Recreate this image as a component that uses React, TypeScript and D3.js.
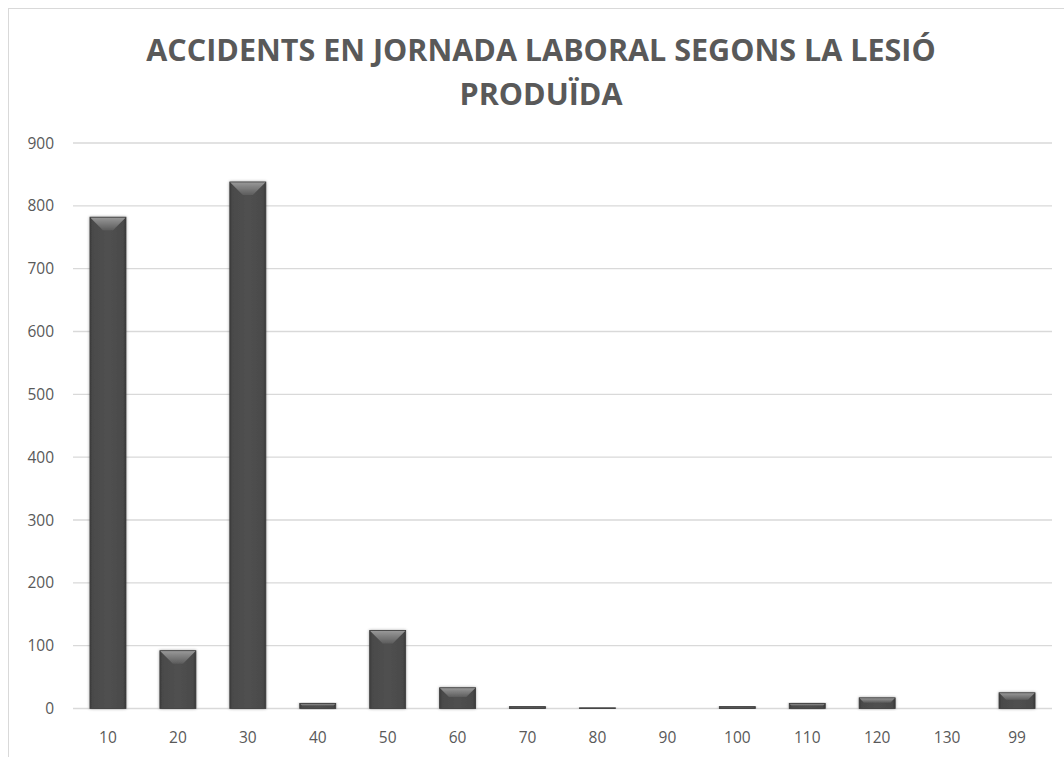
import React from "react";
import * as d3 from "d3";

const categories = ["10", "20", "30", "40", "50", "60", "70", "80", "90", "100", "110", "120", "130", "99"];
const values = [782, 92, 838, 8, 124, 33, 3, 1, 0, 3, 8, 17, 0, 25];
const yTicks = [0, 100, 200, 300, 400, 500, 600, 700, 800, 900];
const titleLines = ["ACCIDENTS EN JORNADA LABORAL SEGONS LA LESIÓ", "PRODUÏDA"];

const W = 1064;
const H = 757;
const plot = { left: 73, right: 1052, top: 143, bottom: 708.5 };
const textColor = "#595959";
const font = "'Open Sans', 'Liberation Sans', Arial, sans-serif";

export default function App() {
  const x = d3.scaleBand<string>().domain(categories).range([plot.left, plot.right]).paddingInner(0.485).paddingOuter(0.2425);
  const y = d3.scaleLinear().domain([0, 900]).range([plot.bottom, plot.top]);
  const bw = x.bandwidth();

  return (
    <svg width={W} height={H} style={{ position: "absolute", left: 0, top: 0, display: "block", background: "#fff" }}>
      <defs>
        <linearGradient id="topBevel" x1="0" y1="0" x2="0" y2="1">
          <stop offset="0" stopColor="#9a9a9a" />
          <stop offset="1" stopColor="#5c5c5c" />
        </linearGradient>
        <linearGradient id="body" x1="0" y1="0" x2="1" y2="0">
          <stop offset="0" stopColor="#3c3c3c" />
          <stop offset="0.08" stopColor="#4a4a4a" />
          <stop offset="0.5" stopColor="#505050" />
          <stop offset="0.92" stopColor="#4a4a4a" />
          <stop offset="1" stopColor="#383838" />
        </linearGradient>
        <filter id="sh" x="-20%" y="-20%" width="140%" height="140%">
          <feGaussianBlur in="SourceAlpha" stdDeviation="1.5" />
          <feOffset dx="0" dy="0" result="b" />
          <feComponentTransfer><feFuncA type="linear" slope="0.35" /></feComponentTransfer>
          <feMerge><feMergeNode /><feMergeNode in="SourceGraphic" /></feMerge>
        </filter>
      </defs>
      <rect x={8.5} y={8.5} width={W + 20} height={H + 20} fill="#fff" stroke="#d9d9d9" strokeWidth={1} />
      {titleLines.map((t, i) => (
        <text key={i} x={541} y={61 + i * 44} textAnchor="middle" fontFamily={font} fontWeight="bold" fontSize={30.5} fill={textColor}>
          {t}
        </text>
      ))}
      {yTicks.map((t) => (
        <g key={t}>
          <line x1={plot.left} x2={plot.right} y1={y(t)} y2={y(t)} stroke="#d9d9d9" strokeWidth={1.3} />
          <text x={54} y={y(t)} dy="0.36em" textAnchor="end" fontFamily={font} fontSize={15.5} fill={textColor}>
            {t}
          </text>
        </g>
      ))}
      {categories.map((c, i) => {
        const v = values[i];
        const x0 = x(c)!;
        const y0 = y(v);
        const h = plot.bottom - y0;
        if (h <= 0.01) return null;
        const b = Math.min(13, h * 0.45, bw / 2);
        const x1 = x0 + bw;
        return (
          <g key={c} filter="url(#sh)">
            <rect x={x0} y={y0} width={bw} height={h} fill="url(#body)" />
            <polygon points={`${x0},${y0} ${x1},${y0} ${x1 - b},${y0 + b} ${x0 + b},${y0 + b}`} fill="url(#topBevel)" />
            <rect x={x0} y={y0} width={bw} height={h} fill="none" stroke="#3a3a3a" strokeWidth={0.8} />
          </g>
        );
      })}
      {categories.map((c) => (
        <text key={c} x={x(c)! + bw / 2} y={743} textAnchor="middle" fontFamily={font} fontSize={15.5} fill={textColor}>
          {c}
        </text>
      ))}
    </svg>
  );
}
